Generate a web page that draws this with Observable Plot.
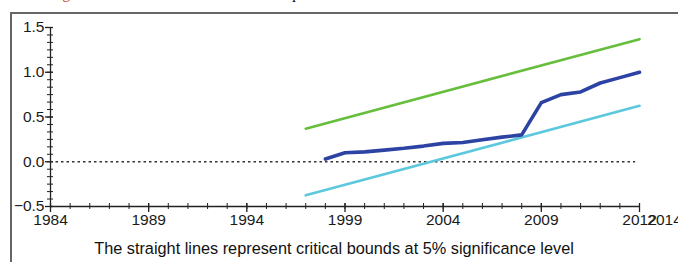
<!DOCTYPE html>
<html>
<head>
<meta charset="utf-8">
<script src="https://cdn.jsdelivr.net/npm/d3@7"></script>
<script src="https://cdn.jsdelivr.net/npm/@observablehq/plot@0.6"></script>
<style>
  html, body { margin: 0; padding: 0; background: #fff; width: 678px; height: 262px; overflow: hidden; }
  #wrap { position: relative; width: 678px; height: 262px; }
  #frame { position: absolute; left: 10px; top: 12px; width: 720px; height: 300px;
           border-left: 2px solid #666; border-top: 2px solid #666; box-sizing: border-box; }
  #fig { position: absolute; left: 49px; top: -15px; white-space: nowrap;
         font-family: "Liberation Serif", "DejaVu Serif", serif; font-size: 16px; line-height: 16px; color: #111; }
  #fig .red { color: #c8502a; }
  #chart { position: absolute; left: 0; top: 0; }
</style>
</head>
<body>
<div id="wrap">
  <div id="fig"><span class="red">Figure 5:</span> Plot of cumulative sum of squares of recursive residuals</div>
  <div id="frame"></div>
  <div id="chart"></div>
</div>
<script>
// ---- data ----
const years = [1998, 1999, 2000, 2001, 2002, 2003, 2004, 2005, 2006, 2007, 2008, 2009, 2010, 2011, 2012, 2013, 2014];
const cusumsq = [0.03, 0.10, 0.11, 0.13, 0.15, 0.175, 0.205, 0.215, 0.245, 0.275, 0.30, 0.66, 0.75, 0.78, 0.88, 0.94, 1.00];
const boundYears = [1997, 2014];
const upperBound = [0.37, 1.37];
const lowerBound = [-0.375, 0.625];
const xMajorTicks = [1984, 1989, 1994, 1999, 2004, 2009, 2014];
const xTickLabels = ["1984", "1989", "1994", "1999", "2004", "2009", "2012"];
const xExtraLabel = "2014";
const yMajorTicks = [-0.5, 0.0, 0.5, 1.0, 1.5];
const caption = "The straight lines represent critical bounds at 5% significance level";

const series = years.map((y, i) => ({year: y, value: cusumsq[i]}));
const upper = boundYears.map((y, i) => ({year: y, value: upperBound[i]}));
const lower = boundYears.map((y, i) => ({year: y, value: lowerBound[i]}));
const xMinor = d3.range(1984, 2015);
const yMinor = d3.range(0, 25).map(i => -0.5 + i / 12);
const labelOf = new Map(xMajorTicks.map((t, i) => [t, xTickLabels[i]]));

const plot = Plot.plot({
  width: 678,
  height: 262,
  marginLeft: 50,
  marginRight: 39,
  marginTop: 27,
  marginBottom: 56,
  style: {background: "transparent", fontFamily: "'Liberation Sans', Arial, sans-serif", fontSize: "15.5px", color: "#222"},
  x: {domain: [1984, 2014]},
  y: {domain: [-0.5, 1.5]},
  marks: [
    // minor ticks
    Plot.axisY({ticks: yMinor, tickSize: 6, dx: 3, tickFormat: () => "", label: null, stroke: "#222"}),
    Plot.axisX({ticks: xMinor, tickSize: 6, dy: -3, tickFormat: () => "", label: null, stroke: "#222"}),
    // major ticks
    Plot.axisY({ticks: yMajorTicks, tickSize: 8, dx: 3, tickFormat: () => "", label: null, stroke: "#222", strokeWidth: 1.3}),
    Plot.axisX({ticks: xMajorTicks, tickSize: 9, dy: -3, tickFormat: () => "", label: null, stroke: "#222", strokeWidth: 1.3}),
    // labels
    Plot.axisY({ticks: yMajorTicks, tickSize: 0, tickPadding: 6, tickFormat: d3.format(".1f"), label: null, fill: "#1a1a1a"}),
    Plot.axisX({ticks: xMajorTicks, tickSize: 0, tickPadding: 7, tickFormat: d => labelOf.get(d), label: null, fill: "#1a1a1a"}),
    Plot.text([xExtraLabel], {x: 2014, y: -0.5, text: d => d, dx: 25, dy: 7, lineAnchor: "top", fill: "#1a1a1a", fontSize: 15.5}),
    // axis lines
    Plot.ruleX([1984], {y1: -0.5, y2: 1.5, stroke: "#222", strokeWidth: 1.3}),
    Plot.ruleY([-0.5], {x1: 1984, x2: 2014, stroke: "#222", strokeWidth: 1.3}),
    // zero reference
    Plot.ruleY([0], {x1: 1984, x2: 2013.8, stroke: "#333", strokeWidth: 1.3, strokeDasharray: "2.5,3"}),
    // bounds
    Plot.line(upper, {x: "year", y: "value", stroke: "#66be3c", strokeWidth: 2.6}),
    Plot.line(lower, {x: "year", y: "value", stroke: "#5cc8de", strokeWidth: 2.6}),
    // CUSUM of squares
    Plot.line(series, {x: "year", y: "value", stroke: "#2c43a4", strokeWidth: 3.6, strokeLinejoin: "round"}),
    // caption
    Plot.text([caption], {frameAnchor: "bottom", text: d => d, dx: -11, dy: 47, lineAnchor: "bottom", fill: "#111", fontSize: 16.3})
  ]
});
document.getElementById("chart").appendChild(plot);
</script>
</body>
</html>
